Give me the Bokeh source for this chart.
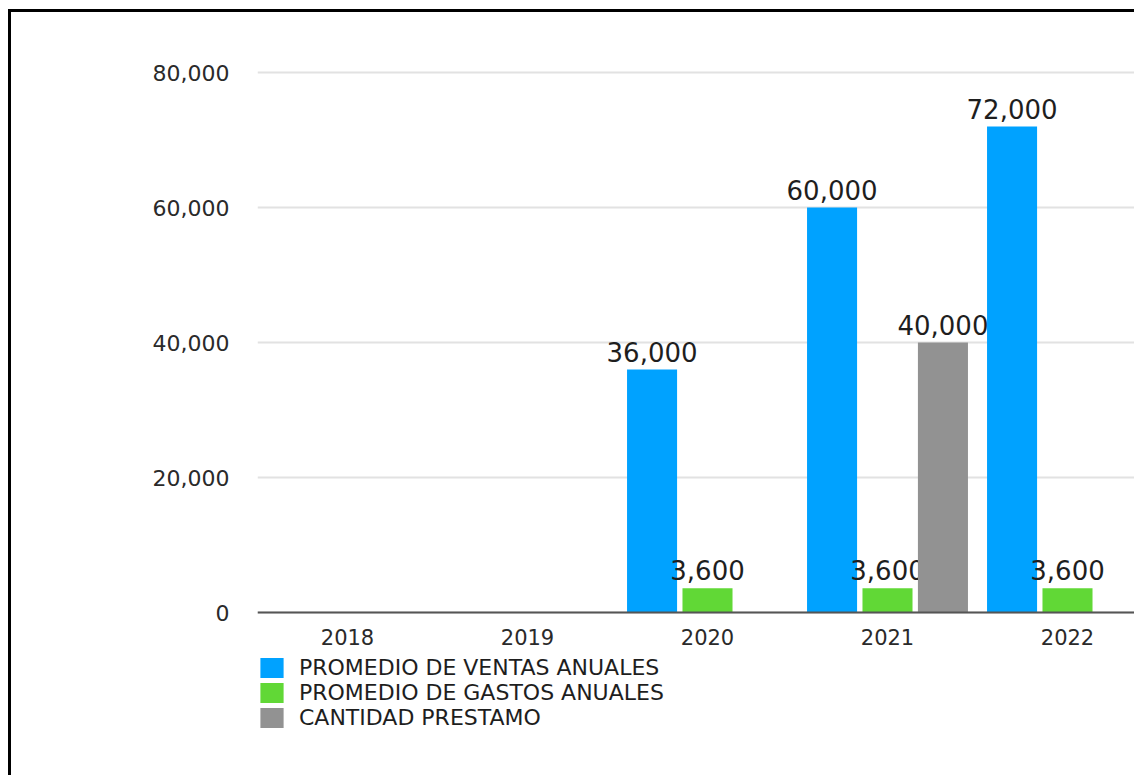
from bokeh.plotting import figure
from bokeh.models import (Range1d, FixedTicker, Legend, LegendItem,
                          ColumnDataSource, NumeralTickFormatter)
from bokeh.embed import file_html
from bokeh.resources import INLINE
from bokeh.core.properties import value

# ---- data ----
years = ["2018", "2019", "2020", "2021", "2022"]
ventas = [0, 0, 36000, 60000, 72000]
gastos = [0, 0, 3600, 3600, 3600]
prestamo = [0, 0, 0, 40000, 0]
y_ticks = [0, 20000, 40000, 60000, 80000]
series_names = ["PROMEDIO DE VENTAS ANUALES", "PROMEDIO DE GASTOS ANUALES", "CANTIDAD PRESTAMO"]
series_values = [ventas, gastos, prestamo]
colors = ["#00A2FF", "#61D836", "#929292"]

FONT = "DejaVu Sans"
OX, OY = 11, 12          # page offset of the canvas (margin + border)
W, H = 1137 - OX, 778 - OY
BOTTOM = 45              # space under the frame
PX_PER_UNIT = 135 / 20000
frame_top, frame_bottom, zero_y = 40, 778 - BOTTOM, 612   # page pixels
y_lo = -(frame_bottom - zero_y) / PX_PER_UNIT
y_hi = (zero_y - frame_top) / PX_PER_UNIT

p = figure(width=W, height=H, output_backend="svg", toolbar_location=None,
           x_range=Range1d(0, 4.8889), y_range=Range1d(y_lo, y_hi),
           min_border_left=257 - OX, min_border_right=0, min_border_top=frame_top - OY,
           min_border_bottom=BOTTOM, background_fill_color="white",
           border_fill_color="white")
p.styles = {"margin-left": "8px", "margin-top": "9px",
            "border-left": "3px solid black", "border-top": "3px solid black"}
p.outline_line_color = None

centers = [i + 0.5 for i in range(len(years))]
offsets = [-0.308, 0.0, 0.308]
bar_w = 0.278

items = []
for name, vals, col, off in zip(series_names, series_values, colors, offsets):
    xs = [c + off for c in centers]
    src = ColumnDataSource(dict(x=xs, top=vals))
    r = p.vbar(x="x", top="top", width=bar_w, source=src, fill_color=col, line_color=None)
    items.append(LegendItem(label=name, renderers=[r]))
    lx = [x for x, v in zip(xs, vals) if v > 0]
    lv = [v for v in vals if v > 0]
    lt = ["{:,}".format(v) for v in lv]
    p.text(x=lx, y=lv, text=lt, text_align="center", text_baseline="alphabetic",
           y_offset=-18, text_font=value(FONT), text_font_size="26px", text_color="#1e1e1e")

# axes
p.yaxis.ticker = FixedTicker(ticks=y_ticks)
p.yaxis.formatter = NumeralTickFormatter(format="0,0")
p.yaxis.axis_line_color = None
p.yaxis.major_tick_line_color = None
p.yaxis.minor_tick_line_color = None
p.yaxis.major_label_standoff = 22
p.yaxis.major_label_text_font = FONT
p.yaxis.major_label_text_font_size = "22px"
p.yaxis.major_label_text_color = "#2a2a2a"

p.xaxis.fixed_location = 0
p.xaxis.ticker = FixedTicker(ticks=centers)
p.xaxis.major_label_overrides = {c: y for c, y in zip(centers, years)}
p.xaxis.axis_line_color = "#555555"
p.xaxis.axis_line_width = 2
p.xaxis.major_tick_line_color = None
p.xaxis.minor_tick_line_color = None
p.xaxis.major_label_standoff = 10
p.xaxis.major_label_text_font = FONT
p.xaxis.major_label_text_font_size = "21px"
p.xaxis.major_label_text_color = "#2a2a2a"

p.xgrid.visible = False
p.ygrid.ticker = FixedTicker(ticks=y_ticks)
p.ygrid.grid_line_color = "#e2e2e2"
p.ygrid.grid_line_width = 2

legend = Legend(items=items, location=(0, frame_bottom - 729.5), orientation="vertical",
                padding=0, margin=0, border_line_color=None, background_fill_alpha=0,
                glyph_width=29, glyph_height=25, label_standoff=13, spacing=0,
                label_height=25, label_text_font=FONT, label_text_font_size="22px",
                label_text_color="#1e1e1e")
p.add_layout(legend)

open("out.html", "w").write(file_html(p, INLINE))
